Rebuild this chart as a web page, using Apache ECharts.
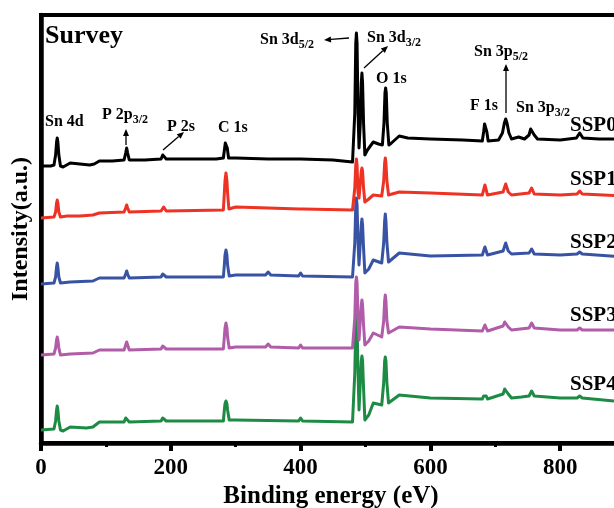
<!DOCTYPE html>
<html><head><meta charset="utf-8">
<script src="https://cdn.jsdelivr.net/npm/echarts@6/dist/echarts.min.js"></script>
<style>html,body{margin:0;padding:0;background:#fff}#c{width:614px;height:508px}</style>
</head><body><div id="c"></div>
<script>
// Binding energy (eV) vs intensity (a.u., stacked with offsets)
const seriesNames = ['SSP0', 'SSP1', 'SSP2', 'SSP3', 'SSP4'];
const ssp0 = [[0,277],[15,277],[20,278],[22.5,288],[24,301],[25,305],[26,301],[27.5,288],[30,277],[34,276],[45,280],[60,279],[75,278],[82,279],[90,282],[110,282],[128,283],[130.5,290],[132,295],[133.5,290],[136,283],[160,283],[185,284],[187.5,288],[189,290],[190.5,288],[193,284],[230,284],[270,284],[281,285],[283,295],[284,300],[285,302],[286,300],[287,295],[289,285],[300,285],[350,284],[400,284],[450,283],[480,281],[482,282],[483.5,330],[485,400],[486,410],[487,400],[488.5,330],[490,295],[492,320],[493.5,360],[494.5,370],[495.5,360],[497,320],[499,288],[503,293],[512,301],[520,299],[526,298],[528.5,320],[530,350],[531,355],[532,350],[533.5,320],[536,298],[540,300],[552,307],[565,305],[600,304],[650,303],[680,302],[682,311],[683.5,319],[684.5,321],[685.5,319],[687,311],[689,302],[705,303],[711,310],[714,320],[716,324],[718,320],[721,310],[725,304],[736,306],[745,304],[752,308],[754.5,314],[756,316],[757.5,314],[760,308],[765,304],[800,303],[825,305],[830,310],[835,305],[860,304],[900,304],[1000,303]];
const ssp1 = [[0,225],[20,226],[22.5,231],[24,240],[25,243],[26,240],[27.5,231],[30,226],[40,227],[60,227],[80,228],[90,230],[128,231],[130.5,235],[132,238],[133.5,235],[136,231],[185,232],[187.5,234],[189,236],[190.5,234],[193,232],[281,233],[282.5,250],[283.5,262],[285,270],[286.5,262],[287.5,250],[289.5,234],[300,236],[350,235],[398,234],[401,236],[404,234],[480,233],[482,234],[483.5,255],[485,278],[486,284],[487,278],[488.5,250],[490,245],[492,260],[493.5,272],[494.5,275],[495.5,272],[497,255],[499,241],[505,244],[512,248],[525,247],[528,262],[529.5,280],[530.5,285],[531.5,280],[533,262],[535.5,248],[552,251],[600,250],[680,248],[682,253],[684,258],[686,253],[688,248],[712,251],[714.5,256],[716,259],[717.5,256],[720,251],[725,248],[752,250],[756,255],[760,249],[800,248],[826,249],[830,252],[834,249],[900,247],[1000,247]];
const ssp2 = [[0,159],[20,160],[22.5,166],[24,176],[25,180],[26,176],[27.5,166],[30,160],[45,161],[80,162],[90,165],[128,165],[130.5,169],[132,172],[133.5,169],[136,165],[185,166],[187.5,169],[189,171],[190.5,169],[193,166],[281,166],[282.5,178],[283.5,188],[285,193],[286.5,188],[287.5,178],[290,167],[300,168],[346,168],[350,171],[354,168],[397,167],[400,170],[403,167],[480,166],[482,167],[483.5,200],[485,238],[486,245],[487,238],[488.5,200],[490,178],[492,200],[493.5,218],[494.5,224],[495.5,218],[497,195],[499,170],[505,174],[512,183],[525,180],[528,200],[529.5,222],[530.5,229],[531.5,222],[533,200],[535.5,181],[552,190],[600,187],[680,188],[682,192],[684,196],[686,192],[688,188],[712,192],[714.5,197],[716,200],[717.5,197],[720,192],[725,189],[752,190],[756,194],[760,189],[800,188],[826,189],[830,191],[834,189],[900,186],[1000,186]];
const ssp3 = [[0,88],[20,89],[22.5,95],[24,103],[25,106],[26,103],[27.5,95],[30,88],[45,89],[80,90],[90,93],[128,93],[130.5,98],[132,101],[133.5,98],[136,93],[185,94],[187.5,97],[189,99],[190.5,97],[193,94],[281,94],[282.5,106],[283.5,115],[285,120],[286.5,115],[287.5,106],[290,95],[300,96],[346,96],[350,99],[354,96],[397,95],[400,98],[403,95],[480,95],[482,96],[483.5,125],[485,160],[486,166],[487,160],[488.5,125],[490,103],[492,122],[493.5,138],[494.5,143],[495.5,138],[497,118],[499,98],[505,102],[512,110],[525,106],[528,122],[529.5,142],[530.5,148],[531.5,142],[533,122],[535.5,110],[552,116],[600,114],[680,112],[682,115],[684,118],[686,115],[688,112],[712,117],[714.5,121],[716,123],[717.5,121],[720,116],[725,113],[752,115],[756,120],[760,115],[800,113],[826,113],[830,115],[834,113],[900,113],[1000,112]];
const ssp4 = [[0,13],[20,14],[22.5,22],[24,33],[25,37],[26,33],[27.5,22],[30,13],[34,12],[45,16],[70,15],[80,16],[90,21],[128,21],[130.5,25],[132,27],[133.5,25],[136,21],[185,22],[187.5,25],[189,26],[190.5,25],[193,22],[281,22],[282.5,33],[283.5,39],[285,42],[286.5,39],[287.5,33],[290,23],[300,23],[397,22],[400,25],[403,22],[480,21],[482,22],[483.5,70],[485,118],[486,128],[487,118],[488.5,70],[490,33],[492,60],[493.5,82],[494.5,87],[495.5,82],[497,55],[499,23],[505,28],[512,40],[525,38],[528,60],[529.5,82],[530.5,86],[531.5,82],[533,60],[535.5,40],[552,48],[600,45],[680,44],[682,47],[684,49],[686,47],[688,44],[712,49],[714.5,54],[716,56],[717.5,54],[720,49],[725,45],[740,46],[752,47],[756,52],[760,47],[800,45],[826,45],[830,47],[834,45],[900,41],[1000,40]];
const seriesData = [ssp0, ssp1, ssp2, ssp3, ssp4];
const xMin = 0, xMax = 1000, xStep = 200;

const colors = ['#000000', '#ee3224', '#3953a4', '#b05ca8', '#1d8b44'];
const FONT = '"Liberation Serif","Times New Roman",serif';
const mctx = document.createElement('canvas').getContext('2d');
function tw(t, size) { mctx.font = 'bold ' + size + 'px ' + FONT; return mctx.measureText(t).width; }
const graphics = [];
function txt(x, y, t, size, align) {
  graphics.push({ type: 'text', x: x, y: y, z: 20,
    style: { text: t, fontSize: size, fontWeight: 'bold', fontFamily: FONT, fill: '#000',
      align: align || 'left', verticalAlign: 'middle', textAlign: align || 'left', textVerticalAlign: 'middle' } });
}
function label(x, y, main, sub) {
  txt(x, y, main, 16);
  if (sub) txt(x + tw(main, 16), y + 5, sub, 12);
}
function arrow(x1, y1, x2, y2) {
  const dx = x2 - x1, dy = y2 - y1, L = Math.hypot(dx, dy), ux = dx / L, uy = dy / L;
  const hl = 7, hw = 3;
  const bx = x2 - ux * hl, by = y2 - uy * hl;
  graphics.push({ type: 'line', z: 20, shape: { x1: x1, y1: y1, x2: bx, y2: by }, style: { stroke: '#000', lineWidth: 1.3 } });
  graphics.push({ type: 'polygon', z: 20, shape: { points: [[x2, y2], [bx - uy * hw, by + ux * hw], [bx + uy * hw, by - ux * hw]] }, style: { fill: '#000' } });
}

txt(45, 36, 'Survey', 26);
label(45, 122, 'Sn 4d');
label(102, 115, 'P 2p', '3/2');
label(167, 127, 'P 2s');
label(218, 128, 'C 1s');
label(260, 40, 'Sn 3d', '5/2');
label(367, 38, 'Sn 3d', '3/2');
label(376, 79, 'O 1s');
label(470, 106, 'F 1s');
label(474, 52, 'Sn 3p', '5/2');
label(516, 108, 'Sn 3p', '3/2');
arrow(126, 145, 126, 129);
arrow(163, 150, 184, 132);
arrow(349, 38, 324, 40);
arrow(364, 68, 388, 46);
arrow(506, 113, 506, 64);
const nameY = [126, 180, 243, 316, 385];
seriesNames.forEach((n, i) => txt(570, nameY[i], n, 21));
txt(331, 497, 'Binding energy (eV)', 25, 'center');

const chart = echarts.init(document.getElementById('c'), null, { renderer: 'canvas' });
chart.setOption({
  animation: false,
  backgroundColor: '#fff',
  grid: { left: 41, right: -76, top: 15, bottom: 65, outerBoundsMode: 'none', containLabel: false,
    show: true, borderColor: '#000', borderWidth: 4, backgroundColor: 'transparent' },
  xAxis: {
    type: 'value', min: xMin, max: xMax, interval: xStep,
    axisLine: { show: true, lineStyle: { color: '#000', width: 4.5 } },
    axisTick: { show: true, length: 8, lineStyle: { color: '#000', width: 4 } },
    minorTick: { show: true, splitNumber: 2, length: 4, lineStyle: { color: '#000', width: 3 } },
    splitLine: { show: false },
    axisLabel: { margin: 14, color: '#000', fontSize: 23, fontWeight: 'bold', fontFamily: FONT, formatter: v => String(v) }
  },
  yAxis: {
    type: 'value', min: 0, max: 428,
    name: 'Intensity(a.u.)', nameLocation: 'middle', nameGap: 8,
    nameTextStyle: { color: '#000', fontSize: 24, fontWeight: 'bold', fontFamily: FONT },
    axisLine: { show: true, lineStyle: { color: '#000', width: 4.5 } },
    axisTick: { show: false }, axisLabel: { show: false }, splitLine: { show: false }
  },
  graphic: graphics,
  series: seriesData.map((d, i) => ({
    name: seriesNames[i], type: 'line', data: d, showSymbol: false, symbol: 'none',
    lineStyle: { color: colors[i], width: 3, join: 'round' }, itemStyle: { color: colors[i] },
    z: 10 - i
  }))
});
</script></body></html>
